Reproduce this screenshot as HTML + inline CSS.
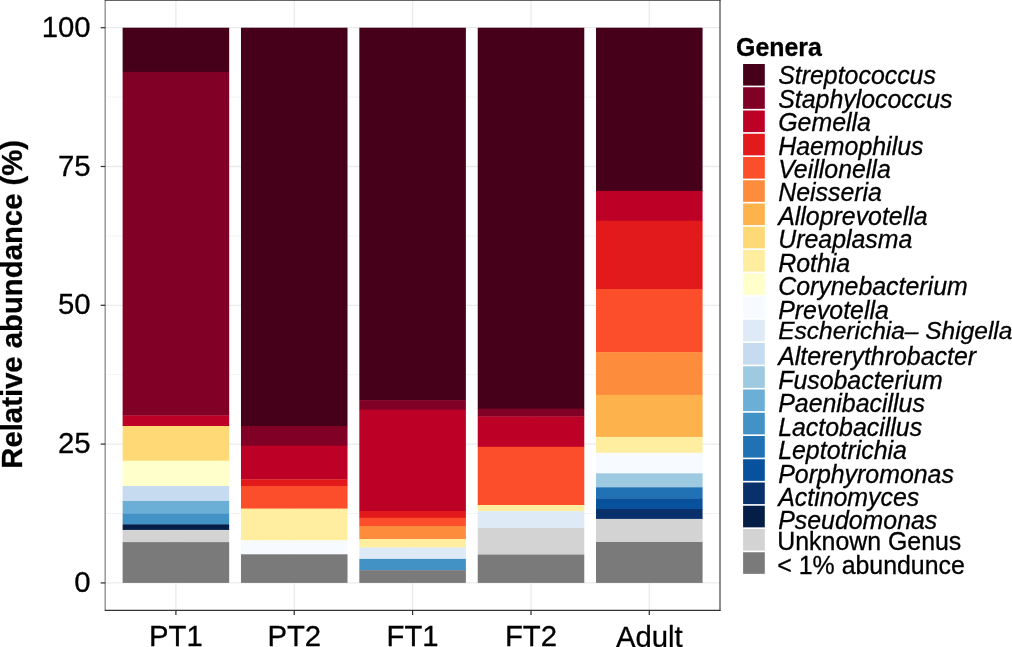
<!DOCTYPE html>
<html lang="en"><head><meta charset="utf-8"><title>Genera relative abundance</title>
<style>html,body{margin:0;padding:0;background:#fff}body{width:1012px;height:647px;overflow:hidden}svg{display:block}text{font-family:"Liberation Sans",Arial,Helvetica,sans-serif;fill:#000}.ax{font-size:29.3px}.lg{font-size:24.9px}.r{stroke:#000;stroke-width:0.3px}.it{font-style:italic}.b{font-weight:bold}</style></head><body>
<svg width="1012" height="647" viewBox="0 0 1012 647">
<rect width="1012" height="647" fill="#fff"/>
<g stroke="#f0f0f0" stroke-width="0.8">
<line x1="105.3" x2="720.0" y1="513.50" y2="513.50"/>
<line x1="105.3" x2="720.0" y1="374.70" y2="374.70"/>
<line x1="105.3" x2="720.0" y1="235.90" y2="235.90"/>
<line x1="105.3" x2="720.0" y1="97.10" y2="97.10"/>
</g><g stroke="#ebebeb" stroke-width="1.3">
<line x1="105.3" x2="720.0" y1="582.90" y2="582.90"/>
<line x1="105.3" x2="720.0" y1="444.10" y2="444.10"/>
<line x1="105.3" x2="720.0" y1="305.30" y2="305.30"/>
<line x1="105.3" x2="720.0" y1="166.50" y2="166.50"/>
<line x1="105.3" x2="720.0" y1="27.70" y2="27.70"/>
<line x1="175.90" x2="175.90" y1="0.3" y2="610.4"/>
<line x1="294.25" x2="294.25" y1="0.3" y2="610.4"/>
<line x1="412.60" x2="412.60" y1="0.3" y2="610.4"/>
<line x1="531.00" x2="531.00" y1="0.3" y2="610.4"/>
<line x1="649.30" x2="649.30" y1="0.3" y2="610.4"/>
</g>
<g shape-rendering="auto">
<rect x="122.62" y="27.70" width="106.55" height="44.50" fill="#47001A"/>
<rect x="122.62" y="71.90" width="106.55" height="343.85" fill="#800026"/>
<rect x="122.62" y="415.45" width="106.55" height="10.85" fill="#BD0026"/>
<rect x="122.62" y="426.00" width="106.55" height="35.00" fill="#FED976"/>
<rect x="122.62" y="460.70" width="106.55" height="25.65" fill="#FFFFCC"/>
<rect x="122.62" y="486.05" width="106.55" height="15.25" fill="#C6DBEF"/>
<rect x="122.62" y="501.00" width="106.55" height="13.10" fill="#6BAED6"/>
<rect x="122.62" y="513.80" width="106.55" height="10.85" fill="#4292C6"/>
<rect x="122.62" y="524.35" width="106.55" height="5.85" fill="#041E47"/>
<rect x="122.62" y="529.90" width="106.55" height="12.50" fill="#D3D3D3"/>
<rect x="122.62" y="542.10" width="106.55" height="40.80" fill="#7A7A7A"/>
<rect x="240.97" y="27.70" width="106.55" height="398.60" fill="#47001A"/>
<rect x="240.97" y="426.00" width="106.55" height="20.00" fill="#800026"/>
<rect x="240.97" y="445.70" width="106.55" height="33.90" fill="#BD0026"/>
<rect x="240.97" y="479.30" width="106.55" height="7.00" fill="#E31A1C"/>
<rect x="240.97" y="486.00" width="106.55" height="22.90" fill="#FC4E2A"/>
<rect x="240.97" y="508.60" width="106.55" height="32.00" fill="#FFEDA0"/>
<rect x="240.97" y="540.30" width="106.55" height="14.30" fill="#F7FBFF"/>
<rect x="240.97" y="554.30" width="106.55" height="28.60" fill="#7A7A7A"/>
<rect x="359.33" y="27.70" width="106.55" height="372.70" fill="#47001A"/>
<rect x="359.33" y="400.10" width="106.55" height="9.90" fill="#800026"/>
<rect x="359.33" y="409.70" width="106.55" height="101.60" fill="#BD0026"/>
<rect x="359.33" y="511.00" width="106.55" height="7.10" fill="#E31A1C"/>
<rect x="359.33" y="517.80" width="106.55" height="8.50" fill="#FC4E2A"/>
<rect x="359.33" y="526.00" width="106.55" height="13.30" fill="#FD8D3C"/>
<rect x="359.33" y="539.00" width="106.55" height="8.80" fill="#FFEDA0"/>
<rect x="359.33" y="547.50" width="106.55" height="11.70" fill="#DEEBF7"/>
<rect x="359.33" y="558.90" width="106.55" height="11.60" fill="#4292C6"/>
<rect x="359.33" y="570.20" width="106.55" height="12.70" fill="#7A7A7A"/>
<rect x="477.73" y="27.70" width="106.55" height="381.30" fill="#47001A"/>
<rect x="477.73" y="408.70" width="106.55" height="8.10" fill="#800026"/>
<rect x="477.73" y="416.50" width="106.55" height="30.60" fill="#BD0026"/>
<rect x="477.73" y="446.80" width="106.55" height="58.50" fill="#FC4E2A"/>
<rect x="477.73" y="505.00" width="106.55" height="6.50" fill="#FFEDA0"/>
<rect x="477.73" y="511.20" width="106.55" height="17.00" fill="#DEEBF7"/>
<rect x="477.73" y="527.90" width="106.55" height="27.00" fill="#D3D3D3"/>
<rect x="477.73" y="554.60" width="106.55" height="28.30" fill="#7A7A7A"/>
<rect x="596.02" y="27.70" width="106.55" height="163.50" fill="#47001A"/>
<rect x="596.02" y="190.90" width="106.55" height="30.10" fill="#BD0026"/>
<rect x="596.02" y="220.70" width="106.55" height="68.60" fill="#E31A1C"/>
<rect x="596.02" y="289.00" width="106.55" height="63.40" fill="#FC4E2A"/>
<rect x="596.02" y="352.10" width="106.55" height="43.10" fill="#FD8D3C"/>
<rect x="596.02" y="394.90" width="106.55" height="42.30" fill="#FEB24C"/>
<rect x="596.02" y="436.90" width="106.55" height="16.15" fill="#FFEDA0"/>
<rect x="596.02" y="452.75" width="106.55" height="20.85" fill="#F7FBFF"/>
<rect x="596.02" y="473.30" width="106.55" height="14.30" fill="#9ECAE1"/>
<rect x="596.02" y="487.30" width="106.55" height="11.30" fill="#2171B5"/>
<rect x="596.02" y="498.30" width="106.55" height="11.00" fill="#08519C"/>
<rect x="596.02" y="509.00" width="106.55" height="10.20" fill="#08306B"/>
<rect x="596.02" y="518.90" width="106.55" height="23.40" fill="#D3D3D3"/>
<rect x="596.02" y="542.00" width="106.55" height="40.90" fill="#7A7A7A"/>
</g>
<g stroke="#333" stroke-linecap="round"><line x1="105.30" x2="720.00" y1="0.30" y2="0.30" stroke-width="1.1"/><line x1="105.30" x2="720.00" y1="610.40" y2="610.40" stroke-width="1.1"/><line x1="105.14" x2="105.14" y1="0.30" y2="610.40" stroke-width="0.75"/><line x1="720.00" x2="720.00" y1="0.30" y2="610.40" stroke-width="1.1"/></g>
<g stroke="#333" stroke-width="1.25">
<line x1="100.7" x2="105.3" y1="582.90" y2="582.90"/>
<line x1="100.7" x2="105.3" y1="444.10" y2="444.10"/>
<line x1="100.7" x2="105.3" y1="305.30" y2="305.30"/>
<line x1="100.7" x2="105.3" y1="166.50" y2="166.50"/>
<line x1="100.7" x2="105.3" y1="27.70" y2="27.70"/>
<line x1="175.90" x2="175.90" y1="610.4" y2="615.0"/>
<line x1="294.25" x2="294.25" y1="610.4" y2="615.0"/>
<line x1="412.60" x2="412.60" y1="610.4" y2="615.0"/>
<line x1="531.00" x2="531.00" y1="610.4" y2="615.0"/>
<line x1="649.30" x2="649.30" y1="610.4" y2="615.0"/>
</g>
<text class="ax r" x="90.6" y="592.00" text-anchor="end">0</text>
<text class="ax r" x="90.6" y="453.20" text-anchor="end">25</text>
<text class="ax r" x="90.6" y="314.40" text-anchor="end">50</text>
<text class="ax r" x="90.6" y="175.60" text-anchor="end">75</text>
<text class="ax r" x="90.6" y="36.80" text-anchor="end">100</text>
<text class="ax r" x="175.90" y="646.0" text-anchor="middle">PT1</text>
<text class="ax r" x="294.25" y="646.0" text-anchor="middle">PT2</text>
<text class="ax r" x="412.60" y="646.0" text-anchor="middle">FT1</text>
<text class="ax r" x="531.00" y="646.0" text-anchor="middle">FT2</text>
<text class="ax r" x="649.30" y="646.8" text-anchor="middle">Adult</text>
<text class="b r" font-size="29.3px" transform="translate(22.0,304.3) rotate(-90)" text-anchor="middle">Relative abundance (%)</text>
<text class="b r" font-size="24.9px" x="736.1" y="55.9">Genera</text>
<rect x="743.1" y="64.00" width="21.7" height="21.6" fill="#47001A"/>
<text class="lg r it" x="778.2" y="84.30">Streptococcus</text>
<rect x="743.1" y="87.25" width="21.7" height="21.6" fill="#800026"/>
<text class="lg r it" x="778.2" y="107.73">Staphylococcus</text>
<rect x="743.1" y="110.50" width="21.7" height="21.6" fill="#BD0026"/>
<text class="lg r it" x="778.2" y="131.16">Gemella</text>
<rect x="743.1" y="133.75" width="21.7" height="21.6" fill="#E31A1C"/>
<text class="lg r it" x="778.2" y="154.59">Haemophilus</text>
<rect x="743.1" y="157.00" width="21.7" height="21.6" fill="#FC4E2A"/>
<text class="lg r it" x="778.2" y="178.02">Veillonella</text>
<rect x="743.1" y="180.25" width="21.7" height="21.6" fill="#FD8D3C"/>
<text class="lg r it" x="778.2" y="201.45">Neisseria</text>
<rect x="743.1" y="203.50" width="21.7" height="21.6" fill="#FEB24C"/>
<text class="lg r it" x="778.2" y="224.88">Alloprevotella</text>
<rect x="743.1" y="226.75" width="21.7" height="21.6" fill="#FED976"/>
<text class="lg r it" x="778.2" y="248.31">Ureaplasma</text>
<rect x="743.1" y="250.00" width="21.7" height="21.6" fill="#FFEDA0"/>
<text class="lg r it" x="778.2" y="271.74">Rothia</text>
<rect x="743.1" y="273.25" width="21.7" height="21.6" fill="#FFFFCC"/>
<text class="lg r it" x="778.2" y="295.17">Corynebacterium</text>
<rect x="743.1" y="296.50" width="21.7" height="21.6" fill="#F7FBFF"/>
<text class="lg r it" x="778.2" y="318.60">Prevotella</text>
<rect x="743.1" y="319.75" width="21.7" height="21.6" fill="#DEEBF7"/>
<text class="lg r it" style="font-size:24.5px" x="778.2" y="339.03">Escherichia– Shigella</text>
<rect x="743.1" y="343.00" width="21.7" height="21.6" fill="#C6DBEF"/>
<text class="lg r it" x="778.2" y="365.46">Altererythrobacter</text>
<rect x="743.1" y="366.25" width="21.7" height="21.6" fill="#9ECAE1"/>
<text class="lg r it" x="778.2" y="388.89">Fusobacterium</text>
<rect x="743.1" y="389.50" width="21.7" height="21.6" fill="#6BAED6"/>
<text class="lg r it" x="778.2" y="412.32">Paenibacillus</text>
<rect x="743.1" y="412.75" width="21.7" height="21.6" fill="#4292C6"/>
<text class="lg r it" x="778.2" y="435.75">Lactobacillus</text>
<rect x="743.1" y="436.00" width="21.7" height="21.6" fill="#2171B5"/>
<text class="lg r it" x="778.2" y="459.18">Leptotrichia</text>
<rect x="743.1" y="459.25" width="21.7" height="21.6" fill="#08519C"/>
<text class="lg r it" x="778.2" y="482.61">Porphyromonas</text>
<rect x="743.1" y="482.50" width="21.7" height="21.6" fill="#08306B"/>
<text class="lg r it" x="778.2" y="506.04">Actinomyces</text>
<rect x="743.1" y="505.75" width="21.7" height="21.6" fill="#041E47"/>
<text class="lg r it" x="778.2" y="529.47">Pseudomonas</text>
<rect x="743.1" y="529.00" width="21.7" height="21.6" fill="#D3D3D3"/>
<text class="lg r" x="777.3" y="550.15">Unknown Genus</text>
<rect x="743.1" y="552.25" width="21.7" height="21.6" fill="#7A7A7A"/>
<text class="lg r" x="777.3" y="573.73">&lt; 1% abundunce</text>
</svg></body></html>
